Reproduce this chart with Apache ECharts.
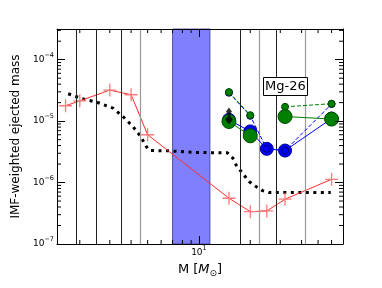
<!DOCTYPE html>
<html><head><meta charset="utf-8">
<script src="https://cdn.jsdelivr.net/npm/echarts@6/dist/echarts.min.js"></script>
<style>html,body{margin:0;padding:0;background:#fff}#c{width:382px;height:288px}</style>
</head><body><div id="c"></div>
<script>
const X_MIN = 1.47, X_MAX = 70, Y_MIN = 1e-7, Y_MAX = 3.16e-4;
const redMass  = [1.65, 2, 3, 4, 5, 15, 20, 25, 32, 60];
const redYield = [1.78e-5, 2.14e-5, 3.2e-5, 2.69e-5, 6.0e-6, 5.56e-7, 3.36e-7, 3.45e-7, 5.36e-7, 1.13e-6];
const blackMass  = [1.71, 2.07, 2.51, 3.13, 3.58, 4.1, 4.55, 4.91, 5.14, 6.72, 9.4, 14.7, 15.8, 16.5, 18.0, 19.7, 21.6, 23.6, 25.8, 59.3];
const blackYield = [2.79e-5, 2.31e-5, 2.04e-5, 1.63e-5, 1.19e-5, 8.17e-6, 5.62e-6, 3.86e-6, 3.32e-6, 3.28e-6, 3.09e-6, 3.05e-6, 2.5e-6, 1.94e-6, 1.42e-6, 1.04e-6, 8.6e-7, 7.4e-7, 6.86e-7, 6.86e-7];
const massiveMass = [15, 20, 25, 32, 60];
const greenSmall = [2.97e-5, 1.25e-5, null, 1.71e-5, 1.92e-5];
const greenLarge = [9.86e-6, 5.77e-6, null, 1.19e-5, 1.08e-5];
const blueSmall  = [2.9e-5, 1.22e-5, 3.54e-6, 3.32e-6, 1.9e-5];
const blueLarge  = [1.05e-5, 6.8e-6, 3.54e-6, 3.32e-6, 1.1e-5];
const diamondMass  = [15, 15];
const diamondYield = [1.44e-5, 1.06e-5];
const diamondSize  = [[6, 8], [8, 10]];
const boundaryDark = [1.9, 2.5, 3.5, 17.5, 28.5];
const boundaryGray = [4.5, 22.5, 42];
const bandRange = [7, 11.6];
const xMinorTicks = [2, 3, 4, 5, 6, 7, 8, 9, 20, 30, 40, 50, 60];
const yMinorTicks = [2e-7, 3e-7, 4e-7, 5e-7, 6e-7, 7e-7, 8e-7, 9e-7,
                     2e-6, 3e-6, 4e-6, 5e-6, 6e-6, 7e-6, 8e-6, 9e-6,
                     2e-5, 3e-5, 4e-5, 5e-5, 6e-5, 7e-5, 8e-5, 9e-5,
                     2e-4, 3e-4];
const xLabel = 'M [';
const yLabel = 'IMF-weighted ejected mass';
const boxLabel = 'Mg-26';

const FONT = 'DejaVu Sans';
function zip(xs, ys) { return xs.map((x, i) => [x, ys[i] == null ? '-' : ys[i]]); }
function powLabel(v) {
  const l = Math.log10(v), e = Math.round(l);
  if (Math.abs(l - e) > 1e-6) return '';
  return '{b|10}{s|' + (e < 0 ? '\u2212' : '') + Math.abs(e) + '}';
}
const richPow = {
  b: { fontSize: 9, lineHeight: 16, fontFamily: FONT, color: '#000', verticalAlign: 'middle' },
  s: { fontSize: 6.5, lineHeight: 8, fontFamily: FONT, color: '#000', verticalAlign: 'top' }
};
const majorTick = { show: true, inside: true, length: 8, lineStyle: { color: '#000', width: 1 } };
const axLine = { show: true, lineStyle: { color: '#000', width: 1 } };

const tickData = xMinorTicks.map(v => [v, Y_MIN, 0]).concat(yMinorTicks.map(v => [X_MIN, v, 1]));

const chart = echarts.init(document.getElementById('c'), null, { renderer: 'canvas' });
chart.setOption({
  animation: false,
  backgroundColor: '#fff',
  title: {
    text: boxLabel, left: 263, top: 77,
    backgroundColor: '#fff', borderColor: '#000', borderWidth: 1, padding: [3, 2, 2, 2],
    textStyle: { fontFamily: FONT, fontSize: 13, fontWeight: 'normal', color: '#000', lineHeight: 14 }
  },
  grid: { left: 57, right: 39, top: 29, bottom: 44 },
  xAxis: [{
    type: 'log', logBase: 10, min: X_MIN, max: X_MAX, position: 'bottom', z: 10,
    axisLine: axLine, axisTick: majorTick, splitLine: { show: false },
    axisLabel: { formatter: powLabel, rich: richPow, margin: 1 },
    name: '{n|' + xLabel + '}{i|M}{sub|\u2299}{n|]}', nameLocation: 'middle', nameGap: 18,
    nameTextStyle: { rich: {
      n: { fontFamily: FONT, fontSize: 13, color: '#000', lineHeight: 16 },
      i: { fontFamily: FONT, fontSize: 13, fontStyle: 'italic', color: '#000', lineHeight: 16 },
      sub: { fontFamily: FONT, fontSize: 9, color: '#000', lineHeight: 10, verticalAlign: 'bottom' }
    } }
  }, {
    type: 'log', logBase: 10, min: X_MIN, max: X_MAX, position: 'top', z: 10,
    axisLine: axLine, axisTick: majorTick, splitLine: { show: false }, axisLabel: { show: false }
  }],
  yAxis: [{
    type: 'log', logBase: 10, min: Y_MIN, max: Y_MAX, position: 'left', z: 10,
    axisLine: axLine, axisTick: majorTick, splitLine: { show: false },
    axisLabel: { formatter: powLabel, rich: richPow, margin: 3 },
    name: yLabel, nameLocation: 'middle', nameGap: 21, nameRotate: 90,
    nameTextStyle: { fontFamily: FONT, fontSize: 12, color: '#000' }
  }, {
    type: 'log', logBase: 10, min: Y_MIN, max: Y_MAX, position: 'right', z: 10,
    axisLine: axLine, axisTick: majorTick, splitLine: { show: false }, axisLabel: { show: false }
  }],
  series: [
    {
      type: 'line', data: [], z: 1, silent: true,
      markArea: { silent: true, itemStyle: { color: '#8080ff', opacity: 1, borderColor: '#3a3a8a', borderWidth: 0.8 },
        data: [[{ xAxis: bandRange[0] }, { xAxis: bandRange[1] }]] },
      markLine: { silent: true, symbol: 'none', label: { show: false },
        data: boundaryDark.map(v => ({ xAxis: v, lineStyle: { color: '#222', width: 1, type: 'solid' } }))
          .concat(boundaryGray.map(v => ({ xAxis: v, lineStyle: { color: '#999', width: 1.2, type: 'solid' } }))) }
    },
    {
      type: 'line', data: zip(blackMass, blackYield), z: 3, showSymbol: false, symbol: 'none',
      lineStyle: { color: '#000', width: 3, type: [3, 4.5], cap: 'butt' }
    },
    {
      type: 'line', data: zip(redMass, redYield), z: 4,
      symbol: 'path://M4.5,0H5.5V4.5H10V5.5H5.5V10H4.5V5.5H0V4.5H4.5Z', symbolSize: 13,
      itemStyle: { color: '#ff7a7a' },
      lineStyle: { color: '#ff2a2a', width: 1 }
    },
    {
      type: 'line', data: zip(massiveMass, blueLarge), z: 5, symbol: 'circle', symbolSize: 13,
      itemStyle: { color: '#0000ff', borderColor: '#00008a', borderWidth: 1 },
      lineStyle: { color: '#0000ff', width: 1 }
    },
    {
      type: 'line', data: zip(massiveMass, blueSmall), z: 6, symbol: 'circle', symbolSize: 7,
      itemStyle: { color: '#0000ff', borderColor: '#00005a', borderWidth: 1 },
      lineStyle: { color: '#0000ff', width: 1, type: [4, 2] }
    },
    {
      type: 'line', data: zip(massiveMass, greenLarge), z: 7, symbol: 'circle', symbolSize: 14,
      connectNulls: false,
      itemStyle: { color: '#008000', borderColor: '#004a00', borderWidth: 1 },
      lineStyle: { color: '#008000', width: 1 }
    },
    {
      type: 'line', data: zip(massiveMass, greenSmall), z: 8, symbol: 'circle', symbolSize: 7,
      connectNulls: false,
      itemStyle: { color: '#008000', borderColor: '#004a00', borderWidth: 1 },
      lineStyle: { color: '#008000', width: 1, type: [4, 2] }
    },
    {
      type: 'scatter', z: 9,
      data: diamondMass.map((m, i) => ({ value: [m, diamondYield[i]], symbolSize: diamondSize[i] })),
      symbol: 'diamond', itemStyle: { color: '#000' }
    },
    {
      type: 'custom', z: 11, silent: true, data: tickData,
      renderItem: function (params, api) {
        const cs = params.coordSys;
        const kind = api.value(2);
        const p = api.coord([api.value(0), api.value(1)]);
        const st = { stroke: '#000', lineWidth: 1 };
        const L = 4;
        if (kind === 0) {
          const x = p[0], yb = cs.y + cs.height, yt = cs.y;
          return { type: 'group', children: [
            { type: 'line', shape: { x1: x, y1: yb, x2: x, y2: yb - L }, style: st },
            { type: 'line', shape: { x1: x, y1: yt, x2: x, y2: yt + L }, style: st }
          ] };
        }
        const y = p[1], xl = cs.x, xr = cs.x + cs.width;
        return { type: 'group', children: [
          { type: 'line', shape: { x1: xl, y1: y, x2: xl + L, y2: y }, style: st },
          { type: 'line', shape: { x1: xr, y1: y, x2: xr - L, y2: y }, style: st }
        ] };
      }
    }
  ]
});
</script>
</body></html>
